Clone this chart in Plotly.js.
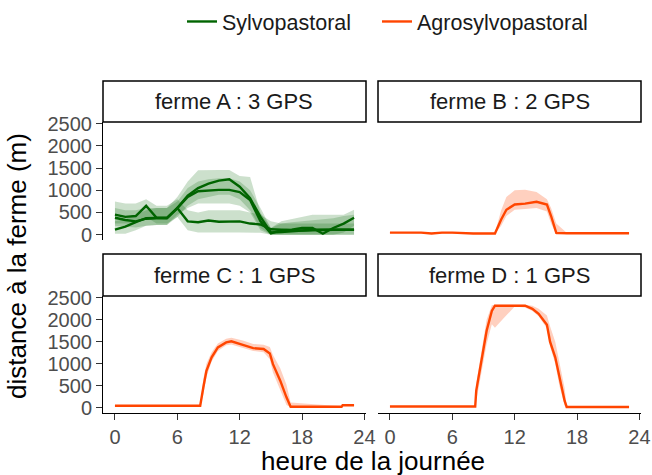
<!DOCTYPE html>
<html>
<head>
<meta charset="utf-8">
<script src="https://cdn.plot.ly/plotly-3.0.1.min.js"></script>
<style>html,body{margin:0;padding:0;background:#fff}#chart{width:652px;height:475px}</style>
</head>
<body>
<div id="chart"></div>
<script>
// ---------- data ----------
var hoursA = [0,1,2,3,4,5,6,7,8,9,10,11,12,13,14,15,16,17,18,19,20,21,22,23];
var farmA_gps1 = [380,330,300,360,375,375,600,880,1050,1150,1220,1250,1080,820,400,50,60,80,100,110,110,110,110,110];
var farmA_gps1_lo = [200,180,160,200,220,220,400,650,800,850,900,900,800,550,150,0,0,0,0,0,0,0,0,0];
var farmA_gps1_hi = [600,550,550,600,600,600,850,1200,1450,1460,1460,1460,1320,1300,500,150,250,280,300,330,350,370,420,450];
var farmA_gps2 = [113,180,280,370,375,375,600,850,980,1000,1010,1010,960,780,300,30,100,110,150,150,20,150,250,380];
var farmA_gps2_lo = [20,20,100,200,220,220,450,600,700,700,700,700,650,500,100,0,0,0,0,0,0,0,50,200];
var farmA_gps2_hi = [300,350,450,550,600,600,750,1050,1200,1250,1270,1270,1200,1000,600,150,300,350,400,450,450,450,450,560];
var farmA_gps3 = [450,400,420,650,380,375,600,300,280,320,290,300,300,250,230,120,110,100,90,100,110,110,110,110];
var farmA_gps3_lo = [250,250,250,400,250,250,400,100,50,50,50,50,50,50,40,0,0,0,0,0,0,0,0,0];
var farmA_gps3_hi = [750,700,700,800,650,650,800,550,500,550,550,550,550,500,450,300,250,250,250,250,250,250,250,250];

var hoursB = [0,3,4,5,6,8,10.1,10.7,11.2,12,13,14.1,15.1,15.5,16,17,20,23];
var farmB = [45,45,25,45,45,25,25,340,560,680,700,740,680,420,40,30,30,30];
var farmB_lo = [30,30,15,30,30,15,15,200,420,560,580,600,520,250,0,20,20,20];
var farmB_hi = [60,60,40,60,60,40,40,550,850,1000,1010,960,800,600,250,40,40,40];

var hoursC = [0,8.2,8.5,8.8,9.3,9.9,10.7,11.2,12.3,13.3,14.3,14.9,15.2,15.9,16.5,16.9,21.8,21.9,23];
var farmC = [45,45,460,840,1145,1370,1485,1510,1430,1355,1335,1235,990,615,235,20,20,55,55];
var farmC_lo = [35,35,300,700,1050,1290,1420,1440,1370,1290,1260,1100,800,400,60,10,10,45,45];
var farmC_hi = [55,55,650,1000,1260,1460,1570,1590,1530,1450,1430,1380,1200,900,520,120,30,65,65];

var hoursD = [0,8.2,8.3,8.8,9.3,9.8,10.1,11,12,13,13.7,14.3,15.1,15.4,15.9,16.3,16.8,17,23];
var farmD = [27,27,390,1070,1750,2200,2320,2320,2320,2320,2250,2135,1885,1500,1145,690,160,17,17];
var farmD_lo = [20,20,200,800,1450,1900,1820,2050,2300,2280,2200,2080,1800,1400,1000,500,50,10,10];
var farmD_hi = [35,35,550,1300,2000,2330,2340,2340,2340,2340,2320,2250,2100,1850,1500,1000,450,40,25];

var stripLabels = ['ferme A : 3 GPS','ferme B : 2 GPS','ferme C : 1 GPS','ferme D : 1 GPS'];
var seriesNames = ['Sylvopastoral','Agrosylvopastoral'];
var yTicks = [0,500,1000,1500,2000,2500];
var xTicks = [0,6,12,18,24];

// ---------- styling ----------
var GREEN = '#006400', ORANGE = '#FF4500';
var GREEN_FILL = 'rgba(0,100,0,0.2)', ORANGE_FILL = 'rgba(255,69,0,0.25)';
var FONT = 'Liberation Sans, Arial, sans-serif';

function band(x, lo, hi, xa, ya, fill){
  return {x: x.concat(x.slice().reverse()), y: hi.concat(lo.slice().reverse()),
    xaxis: xa, yaxis: ya, type:'scatter', mode:'lines', fill:'toself', fillcolor: fill,
    line:{width:0, color:'rgba(0,0,0,0)'}, hoverinfo:'skip', showlegend:false};
}
function line(x, y, xa, ya, color, name, show, lg){
  var t = {x:x, y:y, xaxis:xa, yaxis:ya, type:'scatter', mode:'lines',
    line:{color:color, width:2.4}, name:name, legendgroup:name, showlegend:show};
  if (lg) t.legend = lg;
  return t;
}

var traces = [
  band(hoursA, farmA_gps1_lo, farmA_gps1_hi, 'x', 'y', GREEN_FILL),
  band(hoursA, farmA_gps2_lo, farmA_gps2_hi, 'x', 'y', GREEN_FILL),
  band(hoursA, farmA_gps3_lo, farmA_gps3_hi, 'x', 'y', GREEN_FILL),
  line(hoursA, farmA_gps1, 'x', 'y', GREEN, seriesNames[0], true, 'legend'),
  line(hoursA, farmA_gps2, 'x', 'y', GREEN, seriesNames[0], false),
  line(hoursA, farmA_gps3, 'x', 'y', GREEN, seriesNames[0], false),
  band(hoursB, farmB_lo, farmB_hi, 'x2', 'y2', ORANGE_FILL),
  line(hoursB, farmB, 'x2', 'y2', ORANGE, seriesNames[1], true, 'legend2'),
  band(hoursC, farmC_lo, farmC_hi, 'x3', 'y3', ORANGE_FILL),
  line(hoursC, farmC, 'x3', 'y3', ORANGE, seriesNames[1], false),
  band(hoursD, farmD_lo, farmD_hi, 'x4', 'y4', ORANGE_FILL),
  line(hoursD, farmD, 'x4', 'y4', ORANGE, seriesNames[1], false)
];

var W = 652, H = 475;
function px(v){ return v / W; }
function py(v){ return 1 - v / H; }

var colL = [103, 366], colR = [378, 641];
var rowT = [122, 240], rowB = [296, 413];
var stripT = [81, 122], stripB = [254, 296];

var tickFont = {family: FONT, size: 20, color: '#4D4D4D'};
function xax(dom, anchor, show){
  return {domain:[px(dom[0]), px(dom[1])], anchor:anchor, range:[-1.15, 24.15],
    showgrid:false, zeroline:false, showline:show, linecolor:'#000', linewidth:1,
    ticks: show ? 'outside' : '', ticklen:6, tickcolor:'#333', tickwidth:1,
    tickvals:xTicks, showticklabels:show, tickfont:tickFont, fixedrange:true};
}
function yax(dom, anchor, show){
  return {domain:[py(dom[1]), py(dom[0])], anchor:anchor, range:[-121, 2541],
    showgrid:false, zeroline:false, showline:show, linecolor:'#000', linewidth:1,
    ticks: show ? 'outside' : '', ticklen:6, tickcolor:'#333', tickwidth:1,
    tickvals:yTicks, showticklabels:show, tickfont:tickFont, fixedrange:true};
}

var shapes = [], annotations = [];
var stripDefs = [[colL, stripT],[colR, stripT],[colL, stripB],[colR, stripB]];
stripDefs.forEach(function(s, i){
  shapes.push({type:'rect', xref:'paper', yref:'paper', x0:px(s[0][0]), x1:px(s[0][1]),
    y0:py(s[1][1]), y1:py(s[1][0]), line:{color:'#000', width:1.5}, fillcolor:'#fff', layer:'below'});
  annotations.push({xref:'paper', yref:'paper', x:px((s[0][0]+s[0][1])/2), y:py((s[1][0]+s[1][1])/2),
    text:stripLabels[i], showarrow:false, xanchor:'center', yanchor:'middle',
    font:{family:FONT, size:22, color:'#1A1A1A'}});
});
annotations.push({xref:'paper', yref:'paper', x:px(17), y:py(266), text:'distance à la ferme (m)',
  textangle:-90, showarrow:false, xanchor:'center', yanchor:'middle', font:{family:FONT, size:26, color:'#000'}});
annotations.push({xref:'paper', yref:'paper', x:px(373), y:py(461), text:'heure de la journée',
  showarrow:false, xanchor:'center', yanchor:'middle', font:{family:FONT, size:26, color:'#000'}});

function legendDef(xpx){
  return {orientation:'h', x:px(xpx), y:py(1), xanchor:'left', yanchor:'top',
    font:{family:FONT, size:21.5, color:'#1A1A1A'}, bgcolor:'rgba(0,0,0,0)',
    itemwidth:30, traceorder:'normal'};
}

var layout = {
  width:W, height:H, margin:{l:0, r:0, t:0, b:0},
  paper_bgcolor:'#fff', plot_bgcolor:'rgba(0,0,0,0)',
  font:{family:FONT},
  showlegend:true,
  legend: legendDef(182),
  legend2: legendDef(377),
  xaxis: xax(colL, 'y', false),
  yaxis: yax(rowT, 'x', true),
  xaxis2: xax(colR, 'y2', false),
  yaxis2: yax(rowT, 'x2', false),
  xaxis3: xax(colL, 'y3', true),
  yaxis3: yax(rowB, 'x3', true),
  xaxis4: xax(colR, 'y4', true),
  yaxis4: yax(rowB, 'x4', false),
  shapes: shapes,
  annotations: annotations
};

Plotly.newPlot('chart', traces, layout, {displayModeBar:false, staticPlot:true});
</script>
</body>
</html>
